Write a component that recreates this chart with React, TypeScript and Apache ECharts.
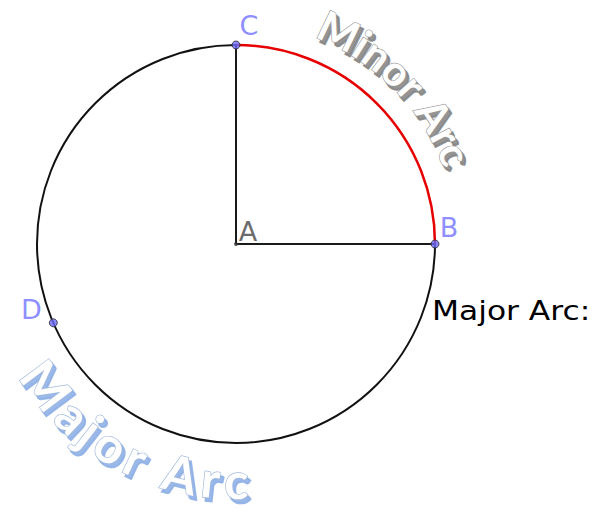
import React, { useEffect, useRef } from "react";
import * as echarts from "echarts";

// ---- data ----
const pointNames = ["A", "B", "C", "D"];
const pointX = [0, 5, 0, -4.59];
const pointY = [0, 0, 5, -1.98];
const circleRadius = 5;
const arcNames = ["minor", "major"];
const arcStartDeg = [0, 90];
const arcEndDeg = [90, 360];
const segmentEnds = ["B", "C"]; // radii drawn from A
const minorText = "Minor Arc";
const majorText = "Major Arc";
const sideText = "Major Arc:";

// ---- styles ----
const arcColors: Record<string, string> = { minor: "#e60000", major: "#111111" };
const arcWidths: Record<string, number> = { minor: 2.5, major: 2 };
const labelStyle: Record<string, any> = {
  A: { color: "#444444", offset: [12, -13], size: 4, fill: "#333333" },
  B: { color: "#7070ff", offset: [14, -17], size: 8, fill: "#6b6bff" },
  C: { color: "#7070ff", offset: [13, -20], size: 8, fill: "#6b6bff" },
  D: { color: "#7070ff", offset: [-22, -13], size: 8, fill: "#6b6bff" },
};

const CX = 236;
const CY = 244;

function measure(chars: string[], font: string): number[] {
  const c = document.createElement("canvas");
  const ctx = c.getContext("2d")!;
  ctx.font = font;
  return chars.map((ch) => ctx.measureText(ch).width);
}

function curvedText(
  text: string,
  r: number,
  startDeg: number,
  endDeg: number,
  fontSize: number,
  upOutward: boolean,
  fill: string,
  stroke: string,
  shadow: string,
  shOff: [number, number]
) {
  const family = "Lato, sans-serif";
  const font = `bold ${fontSize}px ${family}`;
  const chars = text.split("");
  const widths = measure(chars, font);
  const total = widths.reduce((a, b) => a + b, 0);
  const span = (Math.abs(endDeg - startDeg) * Math.PI) / 180;
  const L = span * r;
  const extra = (L - total) / (chars.length - 1);
  const dir = endDeg > startDeg ? 1 : -1;
  const shadowEls: any[] = [];
  const mainEls: any[] = [];
  let s = 0;
  chars.forEach((ch, i) => {
    const mid = s + widths[i] / 2;
    s += widths[i] + extra;
    if (ch === " ") return;
    const th = (startDeg * Math.PI) / 180 + (dir * mid) / r;
    const x = CX + r * Math.cos(th);
    const y = CY - r * Math.sin(th);
    const rot = upOutward ? th - Math.PI / 2 : th + Math.PI / 2;
    const common = {
      text: ch,
      font,
      lineHeight: Math.round(fontSize * 0.8),
      align: "center",
      verticalAlign: "middle",
    };
    shadowEls.push({
      type: "text",
      x: x + shOff[0],
      y: y + shOff[1],
      rotation: rot,
      silent: true,
      z: 10,
      style: { ...common, fill: shadow, stroke: shadow, lineWidth: 2, opacity: 0.9 },
    });
    mainEls.push({
      type: "text",
      x,
      y,
      rotation: rot,
      silent: true,
      z: 11,
      style: { ...common, fill, stroke, lineWidth: 1.3 },
    });
  });
  return [...shadowEls, ...mainEls];
}

export default function App() {
  const ref = useRef<HTMLDivElement>(null);
  useEffect(() => {
    const chart = echarts.init(ref.current!, null, { renderer: "svg" });
    const idx = (n: string) => pointNames.indexOf(n);
    const segSeries = segmentEnds.map((e) => ({
      type: "line",
      name: "A" + e,
      data: [
        [pointX[idx("A")], pointY[idx("A")]],
        [pointX[idx(e)], pointY[idx(e)]],
      ],
      symbol: "none",
      lineStyle: { color: "#1a1a1a", width: 2 },
      z: 3,
      silent: true,
    }));

    const option: any = {
      animation: false,
      backgroundColor: "#ffffff",
      grid: { left: CX - 199, top: CY - 199, width: 398, height: 398 },
      xAxis: { type: "value", min: -circleRadius, max: circleRadius, show: false },
      yAxis: { type: "value", min: -circleRadius, max: circleRadius, show: false },
      series: [
        {
          type: "custom",
          name: "arcs",
          clip: false,
          silent: true,
          z: 2,
          data: arcNames.map((n, i) => [0, 0, circleRadius, arcStartDeg[i], arcEndDeg[i]]),
          encode: { x: 0, y: 1 },
          renderItem: (params: any, api: any) => {
            const c = api.coord([api.value(0), api.value(1)]);
            const r = api.size([api.value(2), 0])[0];
            const name = arcNames[params.dataIndex];
            const s = (api.value(3) * Math.PI) / 180;
            const e = (api.value(4) * Math.PI) / 180;
            return {
              type: "arc",
              shape: { cx: c[0], cy: c[1], r, startAngle: -s, endAngle: -e, clockwise: false },
              style: { stroke: arcColors[name], fill: "none", lineWidth: arcWidths[name] },
            };
          },
        },
        ...segSeries,
        {
          type: "scatter",
          name: "points",
          z: 5,
          silent: true,
          data: pointNames.map((n, i) => ({
            name: n,
            value: [pointX[i], pointY[i]],
            symbolSize: labelStyle[n].size,
            itemStyle: {
              color: labelStyle[n].fill,
              borderColor: "#2a2a2a",
              borderWidth: n === "A" ? 0 : 1,
            },
            label: {
              show: true,
              formatter: "{b}",
              position: "inside",
              offset: labelStyle[n].offset,
              color: labelStyle[n].color,
              fontSize: 27,
              fontFamily: '"DejaVu Sans", sans-serif',
            },
          })),
        },
      ],
      graphic: [
        ...curvedText(minorText, 237, 69, 20, 42, true, "#ffffff", "#9a9a9a", "#858585", [3, 4]),
        ...curvedText(majorText, 236, 211, 273, 50, false, "#ffffff", "#9fb6dc", "#8fb0e6", [3, 4]),
        {
          type: "text",
          x: 432,
          y: 297,
          scaleX: 1.16,
          silent: true,
          style: {
            text: sideText,
            font: '27px "DejaVu Sans", sans-serif',
            fill: "#000000",
            verticalAlign: "top",
          },
        },
      ],
    };
    chart.setOption(option);
    return () => chart.dispose();
  }, []);
  return (
    <div
      ref={ref}
      style={{ position: "fixed", left: 0, top: 0, width: 592, height: 514, background: "#fff" }}
    />
  );
}
